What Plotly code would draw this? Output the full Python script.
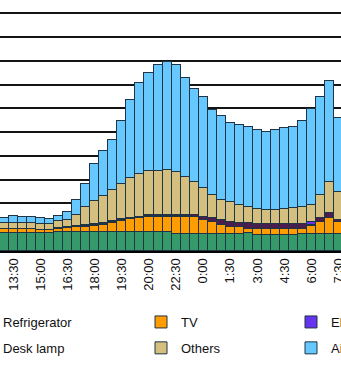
import plotly.graph_objects as go

# Half-hourly time slots (13:00 through 7:30 the next morning)
times = ["13:00", "13:30", "14:00", "14:30", "15:00", "15:30", "16:00", "16:30",
         "17:00", "17:30", "18:00", "18:30", "19:00", "19:30", "20:00", "20:30",
         "21:00", "21:30", "22:00", "22:30", "23:00", "23:30", "0:00", "0:30",
         "1:00", "1:30", "2:00", "2:30", "3:00", "3:30", "4:00", "4:30",
         "5:00", "5:30", "6:00", "6:30", "7:00", "7:30"]

# Labelled slots on the x axis
tick_slots = ["13:30", "15:00", "16:30", "18:00", "19:30", "21:00", "22:30",
              "0:00", "1:30", "3:00", "4:30", "6:00", "7:30"]
tick_labels = ["13:30", "15:00", "16:30", "18:00", "19:30", "20:00", "22:30",
               "0:00", "1:30", "3:00", "4:30", "6:00", "7:30"]

# Power draw per appliance (W)
refrigerator = [76, 76, 76, 76, 76, 76, 78, 79, 81, 80, 80, 80, 78, 78, 78, 78, 78, 78, 78,
                72, 72, 72, 72, 72, 72, 70, 70, 74, 69, 69, 69, 69, 69, 70, 72, 72, 72, 72]
tv = [15, 15, 15, 15, 14, 14, 15, 16, 18, 22, 26, 29, 41, 48, 55, 60, 65, 65, 65,
      69, 69, 70, 59, 49, 38, 32, 29, 19, 23, 23, 23, 23, 23, 24, 34, 48, 66, 48]
desk_lamp = [0, 0, 0, 0, 0, 0, 2, 5, 4, 5, 4, 5, 4, 4, 4, 3, 4, 4, 4,
             6, 6, 8, 14, 17, 21, 21, 19, 24, 21, 21, 21, 20, 20, 21, 2, 18, 21, 11]
electric_fan = [0, 0, 0, 0, 0, 0, 0, 0, 3, 4, 4, 5, 4, 3, 3, 4, 6, 6, 6,
                6, 5, 0, 0, 0, 0, 0, 0, 0, 0, 0, 0, 0, 0, 0, 13, 0, 0, 0]
others = [25, 28, 27, 27, 25, 25, 31, 31, 47, 74, 96, 112, 129, 151, 167, 179, 183, 185, 187,
          180, 161, 140, 120, 99, 85, 83, 77, 69, 62, 61, 59, 64, 67, 69, 73, 98, 130, 119]
air_conditioner = [21, 29, 24, 24, 22, 19, 22, 35, 61, 95, 156, 191, 210, 264, 328, 382, 414, 444, 456,
                   449, 414, 393, 385, 356, 352, 334, 334, 337, 334, 325, 337, 340, 341, 364, 404, 414, 428, 309]

FONT = "Arial, 'Liberation Sans', sans-serif"
EDGE = "#1f3444"

series = [
    ("Refrigerator", refrigerator, "#35996a", "legend"),
    ("TV", tv, "#ff9c00", "legend2"),
    ("Desk lamp", desk_lamp, "#4b1d4f", "legend"),
    ("Electric fan", electric_fan, "#6633ee", "legend3"),
    ("Others", others, "#d5bf7f", "legend2"),
    ("Air conditioner", air_conditioner, "#66c8ff", "legend3"),
]

fig = go.Figure()
for name, values, color, leg in series:
    fig.add_trace(go.Bar(
        x=times, y=values, name=name, legend=leg, legendgroup=name,
        marker=dict(color=color, line=dict(color=EDGE, width=1)),
    ))

PLOT_H = 251
W = 341


def legend_box(text_left_px, top_px):
    return dict(
        orientation="v", traceorder="grouped", tracegroupgap=6,
        x=(text_left_px - 40) / W, xanchor="left",
        y=(PLOT_H - top_px) / PLOT_H, yanchor="top",
        bgcolor="rgba(0,0,0,0)", borderwidth=0,
        font=dict(family=FONT, size=13, color="#111111"),
    )


fig.update_layout(
    width=W, height=366,
    margin=dict(l=0, r=0, t=0, b=366 - PLOT_H, autoexpand=False),
    barmode="stack", bargap=0,
    paper_bgcolor="white", plot_bgcolor="white",
    font=dict(family=FONT, size=13, color="#111111"),
    legend=legend_box(3, 307),
    legend2=legend_box(181, 307),
    legend3=legend_box(331, 307),
    xaxis=dict(
        type="category", range=[-0.5, 37.26],
        tickmode="array", tickvals=tick_slots, ticktext=tick_labels,
        tickangle=-90, ticks="", showgrid=False,
        showline=True, linecolor="#000000", linewidth=2,
        tickfont=dict(family=FONT, size=13, color="#111111"),
    ),
    yaxis=dict(
        range=[0, 1056], dtick=100, showticklabels=False,
        showgrid=True, gridcolor="#151515", gridwidth=2,
        zeroline=False, showline=False, ticks="",
    ),
)

fig.write_html("out.html")
